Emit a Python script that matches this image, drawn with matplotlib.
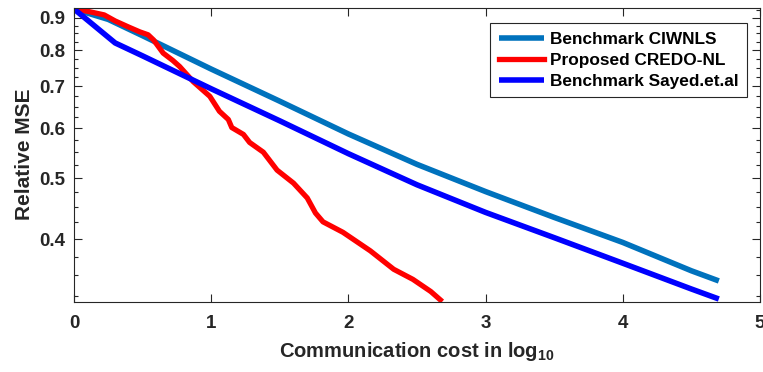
"""Relative MSE vs communication cost: CIWNLS, CREDO-NL and Sayed benchmark."""
import matplotlib
matplotlib.use("Agg")
import matplotlib.pyplot as plt
from matplotlib.ticker import FixedLocator, FuncFormatter, NullFormatter

plt.rcParams["font.family"] = ["Liberation Sans", "DejaVu Sans"]
plt.rcParams["font.weight"] = "bold"
plt.rcParams["axes.labelweight"] = "bold"
plt.rcParams["mathtext.fontset"] = "custom"
plt.rcParams["mathtext.rm"] = "Liberation Sans:bold"
plt.rcParams["mathtext.bf"] = "Liberation Sans:bold"
plt.rcParams["mathtext.default"] = "bf"

# values (x = log10 communication cost)
ciwnls_x = [0.0, 0.25, 0.5, 1.0, 1.5, 2.0, 2.5, 3.0, 3.5, 4.0, 4.5, 4.7]
ciwnls_y = [0.93, 0.895, 0.843, 0.746, 0.663, 0.588, 0.526, 0.476, 0.433, 0.395, 0.356, 0.343]

sayed_x = [0.0, 0.3, 0.5, 1.0, 1.5, 2.0, 2.5, 3.0, 3.5, 4.0, 4.5, 4.7]
sayed_y = [0.93, 0.821, 0.783, 0.694, 0.617, 0.547, 0.488, 0.441, 0.402, 0.366, 0.333, 0.321]

credo_x = [0.0, 0.1, 0.22, 0.3, 0.4, 0.48, 0.54, 0.58, 0.65, 0.72, 0.77, 0.87, 0.99,
           1.06, 1.125, 1.15, 1.235, 1.28, 1.38, 1.48, 1.6, 1.7, 1.76, 1.815, 1.96,
           2.16, 2.33, 2.47, 2.6, 2.67]
credo_y = [0.93, 0.922, 0.91, 0.89, 0.87, 0.855, 0.846, 0.83, 0.791, 0.77, 0.753, 0.712, 0.675,
           0.639, 0.62, 0.602, 0.587, 0.57, 0.55, 0.515, 0.491, 0.465, 0.44, 0.426, 0.41,
           0.383, 0.358, 0.345, 0.33, 0.32]

y_major = [0.4, 0.5, 0.6, 0.7, 0.8, 0.9]
y_minor = [0.325, 0.35, 0.375, 0.425, 0.45, 0.475, 0.525, 0.55, 0.575,
           0.625, 0.65, 0.675, 0.725, 0.75, 0.775, 0.825, 0.85, 0.875, 0.925]
x_ticks = [0, 1, 2, 3, 4, 5]

INK = "#262626"

fig = plt.figure(figsize=(7.63, 3.72), dpi=100)
ax = fig.add_axes([74 / 763, 1 - 302 / 372, 686 / 763, 294.5 / 372])

ax.plot(ciwnls_x, ciwnls_y, color="#0072BD", linewidth=4.0, label="Benchmark CIWNLS", solid_capstyle="butt")
ax.plot(credo_x, credo_y, color="#FF0000", linewidth=3.8, label="Proposed CREDO-NL")
ax.plot(sayed_x, sayed_y, color="#0000FF", linewidth=4.0, label="Benchmark Sayed.et.al", solid_capstyle="butt")

ax.set_yscale("log")
ax.set_xlim(0, 5)
ax.set_ylim(0.3175, 0.935)
ax.yaxis.set_major_locator(FixedLocator(y_major))
ax.yaxis.set_major_formatter(FuncFormatter(lambda v, _: f"{v:.1f}"))
ax.yaxis.set_minor_locator(FixedLocator(y_minor))
ax.yaxis.set_minor_formatter(NullFormatter())
ax.xaxis.set_major_locator(FixedLocator(x_ticks))

ax.tick_params(axis="both", which="both", direction="in", top=True, right=True,
               color=INK, labelcolor=INK, width=0.8, labelsize=13.5)
ax.tick_params(axis="both", which="major", length=5.5)
ax.tick_params(axis="both", which="minor", length=3)
ax.tick_params(axis="x", pad=9)
ax.tick_params(axis="y", pad=6)
for spine in ax.spines.values():
    spine.set_color(INK)
    spine.set_linewidth(0.8)

ax.set_xlabel("Communication cost in log$_{10}$", fontsize=14.5, color=INK, labelpad=6)
ax.set_ylabel("Relative MSE", fontsize=15, color=INK, labelpad=4)

leg = ax.legend(loc="upper right", bbox_to_anchor=(747 / 763, 1 - 23 / 372),
                bbox_transform=fig.transFigure, borderaxespad=0, fontsize=12.4,
                fancybox=False, framealpha=1, edgecolor=INK, handlelength=2.6,
                handletextpad=0.35, labelspacing=0.35, borderpad=0.5)
leg.get_frame().set_linewidth(0.8)
for text in leg.get_texts():
    text.set_color("black")

fig.savefig("out.png", dpi=100)
